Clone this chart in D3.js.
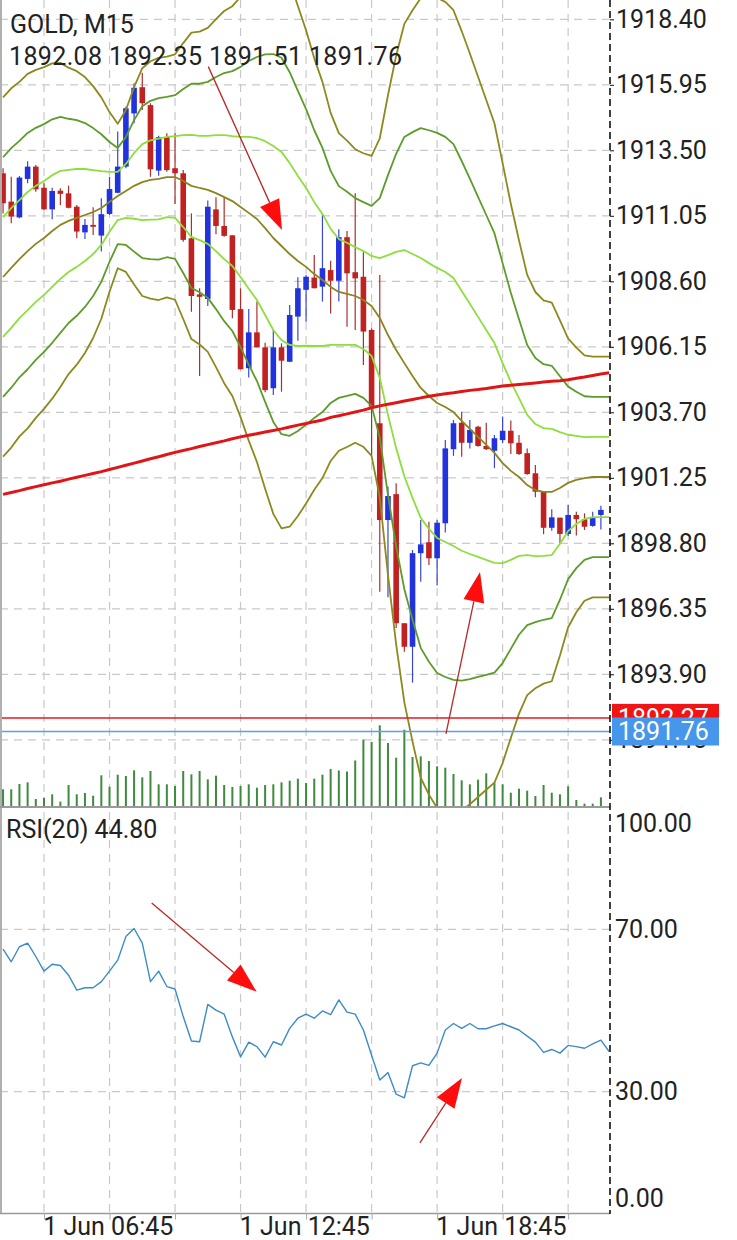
<!DOCTYPE html>
<html><head><meta charset="utf-8">
<script src="https://cdn.jsdelivr.net/npm/d3@7"></script>
<style>
html,body{margin:0;padding:0;background:#fff;}
svg{display:block;font-family:Roboto,"Noto Sans",sans-serif;}
</style>
</head><body>
<svg id="c" width="737" height="1240"></svg>
<script>
// ---------- DATA ----------
const symbolTitle = "GOLD, M15";
const ohlcText = "1892.08 1892.35 1891.51 1891.76";
const rsiTitle = "RSI(20) 44.80";

const open = [1912.64,1911.58,1910.99,1912.43,1912.89,1912.10,1911.29,1911.99,1911.89,1911.39,
1910.43,1910.71,1910.31,1911.12,1911.91,1912.89,1914.88,1915.86,1915.19,1912.74,
1913.99,1912.83,1912.64,1910.21,1908.11,1907.94,1911.29,1910.67,1910.32,1907.56,
1905.35,1906.69,1906.13,1904.60,1906.13,1905.59,1907.28,1908.28,1908.74,1908.40,
1909.02,1908.62,1910.25,1908.94,1908.77,1906.78,1903.29,1899.67,1900.64,1895.81,
1894.93,1898.43,1898.84,1898.24,1899.55,1902.32,1903.31,1902.56,1903.16,1902.44,
1902.26,1902.66,1903.01,1902.56,1902.17,1901.42,1900.73,1899.38,1899.76,1899.15,
1899.86,1899.70,1899.45,1899.86];
const high = [1912.83,1912.51,1912.54,1913.09,1912.95,1912.27,1912.10,1912.08,1912.18,1911.45,
1910.93,1911.37,1911.71,1912.51,1914.20,1915.13,1916.01,1916.40,1915.26,1914.04,
1914.14,1914.14,1912.76,1911.14,1908.34,1911.62,1911.74,1911.74,1910.32,1908.34,
1907.56,1907.84,1906.30,1906.78,1906.28,1907.71,1908.75,1908.84,1909.58,1911.12,
1909.37,1910.55,1910.48,1911.89,1909.69,1906.84,1908.84,1900.92,1901.05,1895.81,
1898.55,1899.67,1899.61,1899.67,1902.66,1903.41,1903.72,1903.41,1903.20,1903.31,
1902.85,1903.54,1903.39,1902.85,1902.35,1901.73,1900.73,1900.07,1899.76,1900.23,
1899.98,1899.92,1899.98,1900.20];
const low = [1911.14,1910.77,1910.96,1912.27,1911.95,1911.27,1910.92,1911.45,1911.33,1910.21,
1910.18,1910.33,1909.71,1911.08,1911.89,1912.83,1914.51,1915.01,1912.51,1912.55,
1912.70,1911.49,1910.08,1907.46,1905.06,1907.68,1910.36,1910.27,1907.22,1905.31,
1905.00,1906.13,1904.45,1904.35,1904.47,1905.59,1906.38,1907.09,1908.34,1907.84,
1907.40,1907.84,1906.90,1906.78,1905.47,1902.10,1896.99,1896.78,1895.63,1894.74,
1893.59,1897.36,1897.99,1897.22,1899.20,1902.07,1902.04,1902.35,1902.41,1902.29,
1901.61,1902.54,1902.14,1902.10,1901.36,1900.52,1899.14,1899.27,1898.80,1899.07,
1899.09,1899.30,1899.42,1899.32];
const close = [1911.52,1911.02,1912.48,1912.89,1912.04,1911.29,1911.98,1911.87,1911.35,1910.46,
1910.71,1910.64,1911.11,1912.05,1912.89,1915.07,1915.84,1915.26,1912.79,1913.99,
1912.76,1912.64,1910.15,1908.05,1908.02,1911.39,1910.67,1910.30,1907.53,1905.31,
1906.69,1906.13,1904.53,1906.13,1905.63,1907.34,1908.34,1908.77,1908.34,1909.09,
1908.62,1910.25,1908.90,1908.71,1906.72,1903.91,1899.67,1900.57,1895.81,1894.93,
1898.43,1898.76,1898.24,1899.57,1902.35,1903.29,1902.56,1903.04,1902.44,1902.32,
1902.73,1903.01,1902.54,1902.14,1901.39,1900.73,1899.38,1899.77,1899.15,1899.86,
1899.70,1899.42,1899.74,1900.05];
const volume = [418,418,550,592,175,208,292,110,525,292,
325,258,767,483,783,750,892,717,875,542,
542,500,875,792,875,667,758,525,475,500,
542,458,525,542,592,633,683,575,683,783,
925,888,863,1138,1663,1600,2017,1575,1208,1908,
1225,1242,1125,992,958,800,642,542,658,817,
583,542,333,433,383,250,525,333,292,492,
150,58,58,217];
// Bollinger middle line and deviation (75 points incl. current bar)
const bandMid = [1908.76,1909.10,1909.43,1909.73,1910.00,1910.22,1910.48,1910.71,1910.86,1910.97,
1911.08,1911.19,1911.34,1911.57,1911.79,1911.98,1912.17,1912.31,1912.39,1912.43,
1912.50,1912.50,1912.35,1912.17,1912.09,1912.02,1911.90,1911.75,1911.60,1911.38,
1911.16,1910.93,1910.59,1910.22,1909.92,1909.62,1909.36,1909.14,1908.87,1908.65,
1908.39,1908.20,1908.13,1908.05,1907.90,1907.68,1907.23,1906.59,1906.03,1905.54,
1905.06,1904.61,1904.31,1904.05,1903.90,1903.71,1903.38,1903.08,1902.78,1902.48,
1902.18,1901.80,1901.51,1901.28,1900.98,1900.79,1900.72,1900.72,1900.87,1901.06,
1901.17,1901.24,1901.28,1901.28,1901.28];
const bandDev = [2.24,2.24,2.21,2.21,2.17,2.13,2.09,2.02,1.91,1.83,
1.72,1.57,1.38,1.12,0.90,1.01,1.23,1.42,1.48,1.51,
1.50,1.53,1.72,1.91,1.95,2.02,2.17,2.32,2.43,2.62,
2.84,3.03,3.25,3.44,3.52,3.40,3.18,2.95,2.69,2.47,
2.17,1.98,1.91,1.83,1.83,1.87,2.24,2.99,3.67,4.23,
4.56,4.86,4.97,5.05,5.05,5.01,4.86,4.68,4.49,4.30,
4.11,3.74,3.33,2.95,2.62,2.47,2.39,2.36,2.09,1.80,
1.65,1.53,1.50,1.50,1.50];
const maSlow = [1900.63,1900.70,1900.77,1900.85,1900.92,1900.99,1901.06,1901.12,1901.20,1901.27,
1901.34,1901.41,1901.48,1901.56,1901.64,1901.72,1901.80,1901.88,1901.96,1902.04,
1902.12,1902.20,1902.27,1902.34,1902.42,1902.49,1902.56,1902.63,1902.71,1902.78,
1902.84,1902.90,1902.96,1903.02,1903.08,1903.15,1903.22,1903.28,1903.35,1903.41,
1903.51,1903.57,1903.64,1903.71,1903.78,1903.87,1903.94,1904.00,1904.06,1904.12,
1904.18,1904.24,1904.30,1904.35,1904.39,1904.43,1904.48,1904.52,1904.55,1904.59,
1904.64,1904.68,1904.71,1904.74,1904.77,1904.80,1904.83,1904.86,1904.88,1904.92,
1904.97,1905.02,1905.08,1905.13,1905.18];
const rsi = [65.1,62.0,65.7,66.6,63.3,59.7,61.4,61.1,58.7,55.0,
55.6,55.6,57.1,59.7,62.4,68.2,70.2,66.6,57.1,59.7,
55.9,55.3,48.5,42.5,42.3,51.5,50.1,49.1,43.5,38.6,
42.2,41.1,38.5,42.3,41.5,45.6,48.1,49.1,48.1,49.9,
49.0,52.6,49.6,49.1,45.2,39.0,32.9,34.7,29.4,28.5,
36.4,37.1,36.5,39.5,45.2,46.8,45.6,46.8,45.5,45.5,
46.2,46.8,46.0,45.2,43.7,42.2,39.7,40.4,39.5,41.4,
41.1,40.7,41.8,42.7,39.9];

const priceTicks = [1918.40,1915.95,1913.50,1911.05,1908.60,1906.15,1903.70,1901.25,1898.80,1896.35,1893.90,1891.45];
const rsiTicks = [100,70,30,0];
const rsiGrid = [70,30];
const gridBars = [5,13,21,29,37,45,53,61,69];
const timeLabels = {5:"1 Jun 06:45", 29:"1 Jun 12:45", 53:"1 Jun 18:45"};
const askPrice = 1892.27, bidPrice = 1891.76;
// annotation arrows: [barFrom, valueFrom, barTo, valueTo]
const priceArrows = [[25.06,1916.63,34.06,1910.52],[54.08,1891.67,58.24,1897.73]];
const rsiArrows = [[18.15,76.5,30.97,54.6],[50.9,17.4,56.04,33.4]];

// ---------- SCALES ----------
const svg = d3.select("#c");
const axisX = 610;
const x = d3.scaleLinear().domain([0,73]).range([3.05,600.9]);
const y = d3.scaleLinear().domain([1891.45,1918.40]).range([739.8,19.3]);
const yv = d3.scaleLinear().domain([0,2500]).range([806,706]);
const yr = d3.scaleLinear().domain([0,100]).range([1213.5,807.5]);

const defs = svg.append("defs");
defs.append("clipPath").attr("id","cm").append("rect").attr("x",0).attr("y",0).attr("width",axisX).attr("height",806);
defs.append("clipPath").attr("id","cr").append("rect").attr("x",0).attr("y",808).attr("width",axisX).attr("height",405);

// ---------- GRID ----------
const grid = svg.append("g").attr("stroke","#c9c9c9").attr("stroke-width",1.2).attr("stroke-dasharray","8,6");
grid.selectAll(".gv").data(gridBars).join("line")
  .attr("x1",d=>x(d)).attr("x2",d=>x(d)).attr("y1",0).attr("y2",1213);
grid.selectAll(".gh").data(priceTicks).join("line").attr("class","gh")
  .attr("x1",0).attr("x2",axisX).attr("y1",d=>y(d)).attr("y2",d=>y(d));
grid.selectAll(".gr").data(rsiGrid).join("line").attr("class","gr")
  .attr("x1",0).attr("x2",axisX).attr("y1",d=>yr(d)).attr("y2",d=>yr(d));

// ---------- MAIN PANEL ----------
const main = svg.append("g").attr("clip-path","url(#cm)");
// volumes
main.selectAll(".vol").data(volume).join("rect").attr("class","vol")
  .attr("x",(d,i)=>x(i)-1).attr("width",2)
  .attr("y",d=>yv(d)).attr("height",d=>yv(0)-yv(d))
  .attr("fill","#3f8a3f");

// candles
const idx = d3.range(open.length);
const cg = main.append("g");
cg.selectAll(".wick").data(idx).join("line")
  .attr("x1",i=>x(i)).attr("x2",i=>x(i))
  .attr("y1",i=>y(high[i])).attr("y2",i=>y(low[i]))
  .attr("stroke",i=>close[i]>=open[i]?"#3a48d0":"#a8302c").attr("stroke-width",1.2);
cg.selectAll(".body").data(idx).join("rect")
  .attr("x",i=>x(i)-2.8).attr("width",5.6)
  .attr("y",i=>y(Math.max(open[i],close[i])))
  .attr("height",i=>Math.max(1.5,Math.abs(y(open[i])-y(close[i]))))
  .attr("fill",i=>close[i]>=open[i]?"#2233dd":"#c02222");

// bands
const bandIdx = d3.range(bandMid.length);
const bandLine = k => d3.line().x(i=>x(i)).y(i=>y(bandMid[i]+k*bandDev[i]));
const bandStyles = [
  {k:3,c:"#8c8a1e"},{k:-3,c:"#8c8a1e"},
  {k:2,c:"#5c9c2a"},{k:-2,c:"#5c9c2a"},
  {k:1,c:"#8ede3e"},{k:-1,c:"#8ede3e"},
  {k:0,c:"#8c8420"}];
bandStyles.forEach(s=>{
  main.append("path").datum(bandIdx).attr("d",bandLine(s.k))
    .attr("fill","none").attr("stroke",s.c).attr("stroke-width",1.8).attr("stroke-linejoin","round");
});
// slow MA
main.append("path").datum(bandIdx)
  .attr("d",d3.line().x(i=>x(i)).y(i=>y(maSlow[i])))
  .attr("fill","none").attr("stroke","#e01616").attr("stroke-width",3);

// ask / bid lines
svg.append("line").attr("x1",0).attr("x2",axisX).attr("y1",y(askPrice)).attr("y2",y(askPrice))
  .attr("stroke","#e21c1c").attr("stroke-width",1.5);
svg.append("line").attr("x1",0).attr("x2",axisX).attr("y1",y(bidPrice)).attr("y2",y(bidPrice))
  .attr("stroke","#5aa2e6").attr("stroke-width",1.5);

// ---------- RSI PANEL ----------
const rp = svg.append("g").attr("clip-path","url(#cr)");
rp.append("path").datum(d3.range(rsi.length))
  .attr("d",d3.line().x(i=>x(i)).y(i=>yr(rsi[i])))
  .attr("fill","none").attr("stroke","#3d8bc6").attr("stroke-width",1.4).attr("stroke-linejoin","round");

// ---------- ARROWS ----------
function arrow(g, x1,y1,x2,y2){
  const dx=x2-x1, dy=y2-y1, L=Math.hypot(dx,dy), ux=dx/L, uy=dy/L;
  const hl=30, hw=10.5;
  const bx=x2-ux*hl, by=y2-uy*hl;
  g.append("line").attr("x1",x1).attr("y1",y1).attr("x2",bx).attr("y2",by)
    .attr("stroke","#b8282a").attr("stroke-width",1.3);
  g.append("path").attr("d",`M${x2},${y2}L${bx-uy*hw},${by+ux*hw}L${bx+uy*hw},${by-ux*hw}Z`)
    .attr("fill","#ff0d0d");
}
const ag = svg.append("g");
priceArrows.forEach(a=>arrow(ag,x(a[0]),y(a[1]),x(a[2]),y(a[3])));
rsiArrows.forEach(a=>arrow(ag,x(a[0]),yr(a[1]),x(a[2]),yr(a[3])));

// ---------- FRAME ----------
svg.append("line").attr("x1",1).attr("x2",1).attr("y1",0).attr("y2",1213.5).attr("stroke","#b0b0b0").attr("stroke-width",2);
svg.append("line").attr("x1",0).attr("x2",axisX).attr("y1",807).attr("y2",807).attr("stroke","#9a9a9a").attr("stroke-width",2);
svg.append("line").attr("x1",0).attr("x2",axisX).attr("y1",1213.5).attr("y2",1213.5).attr("stroke","#9a9a9a").attr("stroke-width",1.5);
svg.append("line").attr("x1",axisX).attr("x2",axisX).attr("y1",0).attr("y2",1214)
  .attr("stroke","#111").attr("stroke-width",1.6).attr("stroke-dasharray","7,4");

// ---------- AXES ----------
const fs = 25;
const ay = svg.append("g").attr("transform",`translate(${axisX},0)`)
  .call(d3.axisRight(y).tickValues(priceTicks).tickFormat(d3.format(".2f")).tickSize(4).tickPadding(2));
ay.select(".domain").remove();
ay.selectAll("text").attr("font-size",fs).attr("font-family","Roboto").attr("fill","#222");
ay.selectAll("line").attr("stroke","#111");

const ar = svg.append("g").attr("transform",`translate(${axisX},0)`);
ar.selectAll("text").data(rsiTicks).join("text")
  .attr("x",5).attr("y",d=>Math.min(1198,Math.max(823,yr(d)))).attr("dy","0.35em")
  .attr("font-size",fs).attr("fill","#222").text(d=>d3.format(".2f")(d));

const ax = svg.append("g").attr("transform","translate(0,1213.5)")
  .call(d3.axisBottom(x).tickValues(gridBars).tickSize(6).tickFormat(d=>timeLabels[d]||""));
ax.select(".domain").remove();
ax.selectAll("line").attr("stroke","#aaa");
ax.selectAll("text").attr("font-size",fs).attr("font-family","Roboto").attr("fill","#222")
  .attr("text-anchor","start").attr("dx","-0.05em").attr("y",4);

// price boxes
const bx = svg.append("g");
[[askPrice,"#f01414"],[bidPrice,"#4696ec"]].forEach(([p,c])=>{
  bx.append("rect").attr("x",axisX+2).attr("y",y(p)-14).attr("width",107).attr("height",28).attr("fill",c);
  bx.append("text").attr("x",axisX+8).attr("y",y(p)).attr("dy","0.35em").attr("font-size",fs)
    .attr("fill","#fff").text(d3.format(".2f")(p));
});

// ---------- HEADERS ----------
svg.append("text").attr("x",10).attr("y",33).attr("font-size",fs).attr("fill","#222").text(symbolTitle);
svg.append("text").attr("x",9).attr("y",65).attr("font-size",fs).attr("fill","#222")
  .attr("textLength",393).attr("lengthAdjust","spacing").text(ohlcText);
svg.append("text").attr("x",6).attr("y",838).attr("font-size",fs).attr("fill","#222").text(rsiTitle);
</script>
</body></html>
